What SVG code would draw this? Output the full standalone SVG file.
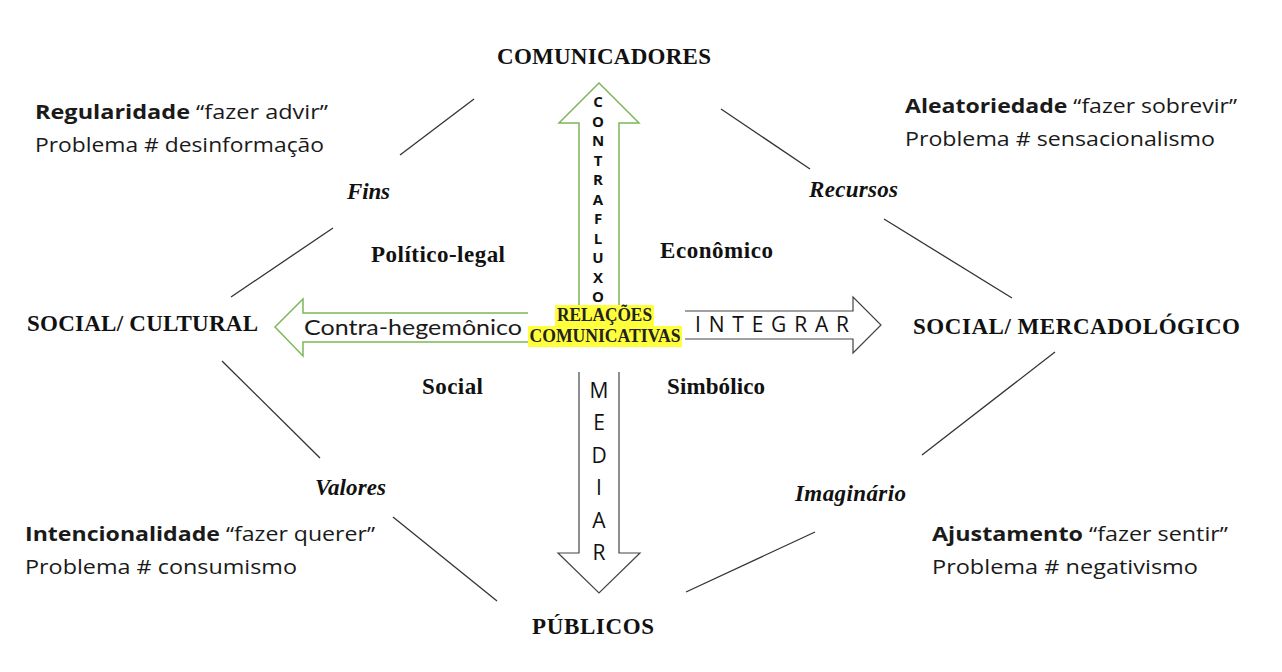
<svg xmlns="http://www.w3.org/2000/svg" width="1282" height="672" viewBox="0 0 1282 672">
<style>
.lbl{font-family:"Liberation Serif","Times New Roman",serif;font-weight:bold;font-size:23px;fill:#111}
.it{font-style:italic}
.rel{font-family:"Liberation Serif","Times New Roman",serif;font-weight:bold;font-size:18px;fill:#222;text-anchor:middle}
.cal{font-family:"Open Sans","Liberation Sans",sans-serif;font-size:20px;fill:#1a1a1a}
.b{font-weight:bold}
.ln{stroke:#333;stroke-width:1.3;fill:none}
.garrow{fill:#fff;stroke:#7cb85a;stroke-width:1.5}
.karrow{fill:#fff;stroke:#444;stroke-width:1.2}
.vert{font-family:"Open Sans","Liberation Sans",sans-serif;text-anchor:middle;fill:#111}
</style>
<rect width="1282" height="672" fill="#fff"/>
<g id="connectors">
<line class="ln" x1="474" y1="99" x2="400" y2="155"/>
<line class="ln" x1="333" y1="228" x2="231" y2="297"/>
<line class="ln" x1="721" y1="109" x2="810" y2="169"/>
<line class="ln" x1="884" y1="219" x2="1012" y2="298"/>
<line class="ln" x1="222" y1="361" x2="320" y2="458"/>
<line class="ln" x1="393" y1="517" x2="497" y2="601"/>
<line class="ln" x1="1055" y1="352" x2="922" y2="455"/>
<line class="ln" x1="815" y1="532" x2="686" y2="592"/>
</g>
<g id="arrow-contrafluxo">
<path class="garrow" d="M579,306 V123 H559 L599,83 L639,123 H619 V306"/>
<text class="vert" font-size="15" font-weight="bold">
<tspan x="598" y="107">C</tspan><tspan x="598" y="126.5">O</tspan><tspan x="598" y="146">N</tspan><tspan x="598" y="165.5">T</tspan><tspan x="598" y="185">R</tspan><tspan x="598" y="204.5">A</tspan><tspan x="598" y="224">F</tspan><tspan x="598" y="243.5">L</tspan><tspan x="598" y="263">U</tspan><tspan x="598" y="282.5">X</tspan><tspan x="598" y="302">O</tspan>
</text>
</g>
<g id="arrow-contra-hegemonico">
<path class="garrow" d="M528,313 H303 V299 L275,327 L303,356 V342 H528"/>
<text x="304" y="335" font-family="Lato,'Open Sans',sans-serif" font-size="22" fill="#1a1a1a" textLength="218" lengthAdjust="spacingAndGlyphs">Contra-hegemônico</text>
</g>
<g id="arrow-integrar">
<path class="karrow" d="M685,311 H853 V297 L881,325 L853,353 V339 H685"/>
<text x="695" y="332" font-family="'Open Sans','Liberation Sans',sans-serif" font-size="21" fill="#111" textLength="154" lengthAdjust="spacing">INTEGRAR</text>
</g>
<g id="arrow-mediar">
<path class="karrow" d="M579,372 V553 H558 L599,593 L640,553 H619 V372"/>
<text class="vert" font-size="21">
<tspan x="599" y="398">M</tspan><tspan x="599" y="430.4">E</tspan><tspan x="599" y="462.8">D</tspan><tspan x="599" y="495.2">I</tspan><tspan x="599" y="527.6">A</tspan><tspan x="599" y="560">R</tspan>
</text>
</g>
<g id="relacoes">
<rect x="555" y="305" width="99" height="21" fill="#ffff3c"/>
<rect x="528" y="326" width="154" height="21" fill="#ffff3c"/>
<text class="rel" x="604.5" y="321" textLength="95" lengthAdjust="spacingAndGlyphs">RELAÇÕES</text>
<text class="rel" x="605" y="342" textLength="151" lengthAdjust="spacingAndGlyphs">COMUNICATIVAS</text>
</g>
<g id="comunicadores"><text class="lbl" x="497" y="64" textLength="214">COMUNICADORES</text></g>
<g id="publicos"><text class="lbl" x="532" y="634" textLength="122">PÚBLICOS</text></g>
<g id="social-cultural"><text class="lbl" x="27" y="331" textLength="231">SOCIAL/ CULTURAL</text></g>
<g id="social-mercadologico"><text class="lbl" x="913" y="334" textLength="327">SOCIAL/ MERCADOLÓGICO</text></g>
<g id="politico-legal"><text class="lbl" x="371" y="262" textLength="134">Político-legal</text></g>
<g id="economico"><text class="lbl" x="660" y="258" textLength="113">Econômico</text></g>
<g id="social"><text class="lbl" x="422" y="394" textLength="61">Social</text></g>
<g id="simbolico"><text class="lbl" x="667" y="394" textLength="98">Simbólico</text></g>
<g id="fins"><text class="lbl it" x="347" y="199" textLength="43">Fins</text></g>
<g id="recursos"><text class="lbl it" x="809" y="197" textLength="89">Recursos</text></g>
<g id="valores"><text class="lbl it" x="315" y="495" textLength="71">Valores</text></g>
<g id="imaginario"><text class="lbl it" x="795" y="501" textLength="111">Imaginário</text></g>
<g id="regularidade">
<text class="cal" x="35" y="119" textLength="293" lengthAdjust="spacingAndGlyphs"><tspan class="b">Regularidade</tspan> “fazer advir”</text>
<text class="cal" x="35" y="152" textLength="289" lengthAdjust="spacingAndGlyphs">Problema # desinformação</text>
</g>
<g id="aleatoriedade">
<text class="cal" x="905" y="113" textLength="332" lengthAdjust="spacingAndGlyphs"><tspan class="b">Aleatoriedade</tspan> “fazer sobrevir”</text>
<text class="cal" x="905" y="146" textLength="310" lengthAdjust="spacingAndGlyphs">Problema # sensacionalismo</text>
</g>
<g id="intencionalidade">
<text class="cal" x="25" y="541" textLength="350" lengthAdjust="spacingAndGlyphs"><tspan class="b">Intencionalidade</tspan> “fazer querer”</text>
<text class="cal" x="25" y="574" textLength="272" lengthAdjust="spacingAndGlyphs">Problema # consumismo</text>
</g>
<g id="ajustamento">
<text class="cal" x="932" y="541" textLength="296" lengthAdjust="spacingAndGlyphs"><tspan class="b">Ajustamento</tspan> “fazer sentir”</text>
<text class="cal" x="932" y="574" textLength="266" lengthAdjust="spacingAndGlyphs">Problema # negativismo</text>
</g>
</svg>
